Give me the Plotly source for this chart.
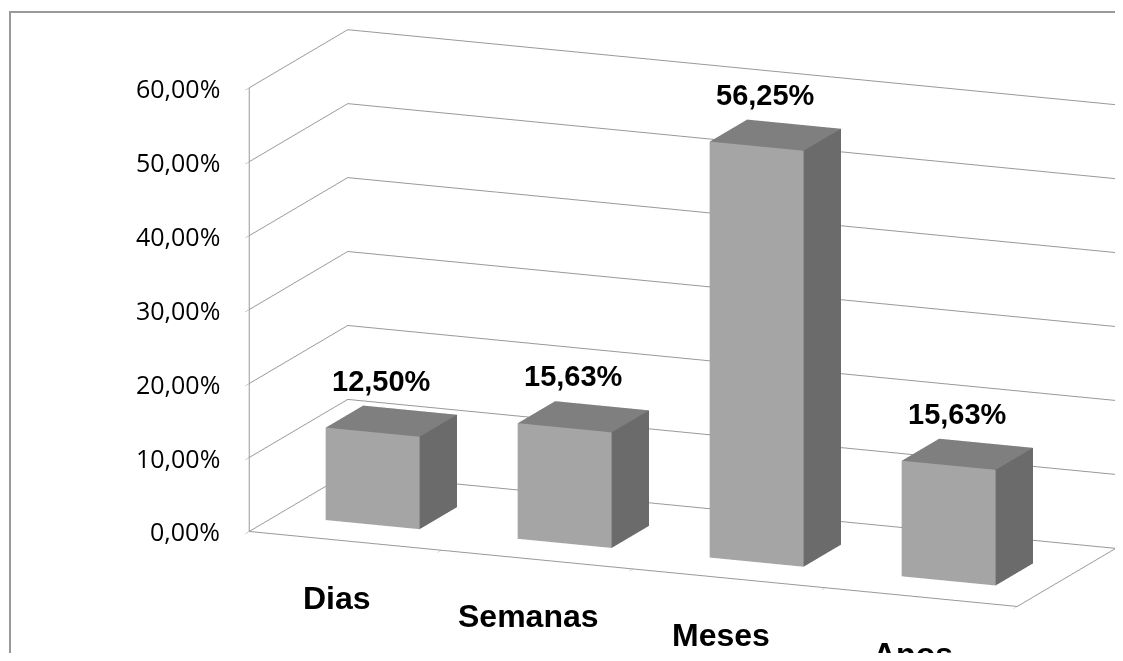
import plotly.graph_objects as go
import numpy as np

categories = ["Dias", "Semanas", "Meses", "Anos"]
values = [0.125, 0.1563, 0.5625, 0.1563]
value_labels = ["12,50%", "15,63%", "56,25%", "15,63%"]
z_ticks = [0.0, 0.1, 0.2, 0.3, 0.4, 0.5, 0.6]
z_tick_labels = ["0,00%", "10,00%", "20,00%", "30,00%", "40,00%", "50,00%", "60,00%"]

NCAT = len(categories)
ZMAX = 0.6
DEPTH = 1.0

# figure size (page has an 8px body margin)
W, H, OFF = 1107, 645, 8

# ---- layout targets measured on the reference (screen pixels) ----
box_pts = [((0, 0, 0), (253, 530)), ((0, 0, 1), (229, 82)), ((0, 1, 1), (352, 49)),
           ((0, 1, 0), (367, 467)), ((1, 0, 0), (1045, 633)), ((1, 1, 0), (1095, 542)),
           ((1, 1, 1), (1118, 88))]
box_w = [1.0, 1.0, 1.6, 1.0, 1.0, 1.0, 1.0]
# per bar: front-bottom-left, front-top-left, front-bottom-right, top-back-right
bar_px = [[(332, 512), (330, 425), (422, 522), (460, 408)],
          [(512, 533), (510, 423), (603, 545), (638, 406)],
          [(702, 558), (703, 127), (800, 570), (835, 117)],
          [(903, 583), (907, 465), (1008, 597), (1033, 447)]]
cat_label_px = [(340, 584), (527, 613), (718, 641), (915, 665)]
val_label_px = [(388, 378), (560, 379), (767, 96), (963, 413)]


def screen(p, pts):
    d = p[0:3] / np.linalg.norm(p[0:3])
    l = p[3:6]
    ax, ay, az = p[6], p[7], p[8]
    w = np.stack([(pts[:, 0] / NCAT - 0.5) * ax,
                  (pts[:, 1] / DEPTH - 0.5) * ay,
                  (pts[:, 2] / ZMAX - 0.5) * az], axis=1)
    f = -d
    r = np.cross(f, [0, 0, 1.0]); r = r / np.linalg.norm(r)
    u = np.cross(r, f)
    q = w - l
    return np.stack([OFF + W / 2 + (H / 2) * (q @ r), OFF + H / 2 - (H / 2) * (q @ u)], axis=1)


def model_points(p):
    bw, d0, d1 = p[9], p[10], p[11]
    pts = [(a * NCAT, b * DEPTH, c * ZMAX) for (a, b, c), _ in box_pts]
    for i, v in enumerate(values):
        cx = i + 0.5
        pts += [(cx - bw, d0, 0), (cx - bw, d0, v), (cx + bw, d0, 0), (cx + bw, d1, v)]
    return np.array(pts, float)


target = np.array([t for _, t in box_pts] + [q for b in bar_px for q in b], float)
weights = np.repeat(np.array(box_w + [1.0] * 16), 2)


def resid(p):
    return ((screen(p, model_points(p)) - target).ravel()) * weights


p = np.array([0.354, -0.897, 0.264, -0.247, -0.391, 0.026, 2.564, 0.821, 1.442, 0.247, 0.285, 0.649])
lam = 1e-2
r0 = resid(p)
for it in range(600):
    Jm = np.zeros((r0.size, p.size))
    for k in range(p.size):
        dp = np.zeros_like(p); dp[k] = 1e-6
        Jm[:, k] = (resid(p + dp) - r0) / 1e-6
    A = Jm.T @ Jm
    g = Jm.T @ r0
    step = -np.linalg.solve(A + lam * np.diag(np.diag(A) + 1e-9), g)
    pn = p + step
    rn = resid(pn)
    if rn @ rn < r0 @ r0:
        p, r0, lam = pn, rn, lam * 0.5
    else:
        lam *= 4
dirv = p[0:3] / np.linalg.norm(p[0:3])
center = dict(x=p[3], y=p[4], z=p[5])
eye = dict(x=p[3] + 2.5 * dirv[0], y=p[4] + 2.5 * dirv[1], z=p[5] + 2.5 * dirv[2])
aspect = dict(x=p[6], y=p[7], z=p[8])
BAR_HALF = float(np.clip(p[9], 0.1, 0.45))
D0 = float(np.clip(p[10], 0.02, 0.6))
D1 = float(np.clip(p[11], D0 + 0.1, 0.98))

# label offsets relative to their data anchors
cat_anchor = screen(p, np.array([(i + 0.5, 0, 0) for i in range(NCAT)], float))
cat_shift = np.mean(np.array(cat_label_px) - cat_anchor, axis=0)
val_anchor = screen(p, np.array([(i + 0.5, (D0 + D1) / 2, v) for i, v in enumerate(values)], float))
val_shift = np.mean(np.array(val_label_px) - val_anchor, axis=0)

# --- bars as one box mesh built from the values ---
xs, ys, zs, I, J, K, fc = [], [], [], [], [], [], []
FRONT, RIGHT, TOP, OTHER = "#a5a5a5", "#6b6b6b", "#7f7f7f", "#8a8a8a"
for i, v in enumerate(values):
    cx = i + 0.5
    x0, x1 = cx - BAR_HALF, cx + BAR_HALF
    b = len(xs)
    pts = [(x0, D0, 0), (x1, D0, 0), (x1, D1, 0), (x0, D1, 0),
           (x0, D0, v), (x1, D0, v), (x1, D1, v), (x0, D1, v)]
    for q in pts:
        xs.append(q[0]); ys.append(q[1]); zs.append(q[2])
    faces = [((0, 1, 5), FRONT), ((0, 5, 4), FRONT),
             ((1, 2, 6), RIGHT), ((1, 6, 5), RIGHT),
             ((4, 5, 6), TOP), ((4, 6, 7), TOP),
             ((3, 7, 6), OTHER), ((3, 6, 2), OTHER),
             ((0, 4, 7), OTHER), ((0, 7, 3), OTHER),
             ((0, 3, 2), OTHER), ((0, 2, 1), OTHER)]
    for (a, bb, c), col in faces:
        I.append(b + a); J.append(b + bb); K.append(b + c); fc.append(col)

bars = go.Mesh3d(x=xs, y=ys, z=zs, i=I, j=J, k=K, facecolor=fc, flatshading=True,
                 lighting=dict(ambient=1, diffuse=0, specular=0, fresnel=0, roughness=1),
                 hoverinfo="skip", showscale=False)

fig = go.Figure([bars])

annotations = []
for i, (v, t) in enumerate(zip(values, value_labels)):
    annotations.append(dict(x=i + 0.5, y=(D0 + D1) / 2, z=v, text=t, showarrow=False,
                            xanchor="center", yanchor="middle",
                            xshift=float(val_shift[0]), yshift=float(-val_shift[1]),
                            font=dict(family="Liberation Sans", size=29, color="black", weight="bold")))
for i, c in enumerate(categories):
    annotations.append(dict(x=i + 0.5, y=0, z=0, text=c, showarrow=False,
                            xanchor="center", yanchor="middle",
                            xshift=float(cat_shift[0]), yshift=float(-cat_shift[1]),
                            font=dict(family="Liberation Sans", size=32, color="black", weight="bold")))
for t, lab in zip(z_ticks, z_tick_labels):
    annotations.append(dict(x=0, y=0, z=t, text=lab, showarrow=False,
                            xanchor="right", yanchor="middle", xshift=-27,
                            font=dict(family="Open Sans", size=25, color="black")))

grid = "#999999"
axis_common = dict(showbackground=False, showspikes=False, zeroline=False,
                   title=dict(text=""), showticklabels=False)
fig.update_layout(
    width=W, height=H,
    margin=dict(l=0, r=0, t=0, b=0),
    paper_bgcolor="white",
    showlegend=False,
    scene=dict(
        domain=dict(x=[0, 1], y=[0, 1]),
        aspectmode="manual",
        aspectratio=aspect,
        camera=dict(eye=eye, center=center, up=dict(x=0, y=0, z=1),
                    projection=dict(type="orthographic")),
        xaxis=dict(range=[0, NCAT], tickvals=list(range(NCAT + 1)), showgrid=False,
                   showline=True, linecolor=grid, linewidth=2,
                   ticks="outside", ticklen=8, tickcolor=grid, **axis_common),
        yaxis=dict(range=[0, DEPTH], showgrid=False, showline=True, linecolor=grid, linewidth=2,
                   ticks="", **axis_common),
        zaxis=dict(range=[0, ZMAX], tickvals=z_ticks, showgrid=True,
                   gridcolor=grid, gridwidth=2, showline=True, linecolor=grid, linewidth=2,
                   ticks="outside", ticklen=8, tickcolor=grid, **axis_common),
        annotations=annotations,
    ),
    shapes=[dict(type="rect", xref="paper", yref="paper",
                 x0=(10 - OFF) / W, y0=-0.05, x1=1.05, y1=1 - (12 - OFF) / H,
                 line=dict(color="#999999", width=2), fillcolor="rgba(0,0,0,0)", layer="above")],
)

fig.write_html("out.html", config=dict(displayModeBar=False))
